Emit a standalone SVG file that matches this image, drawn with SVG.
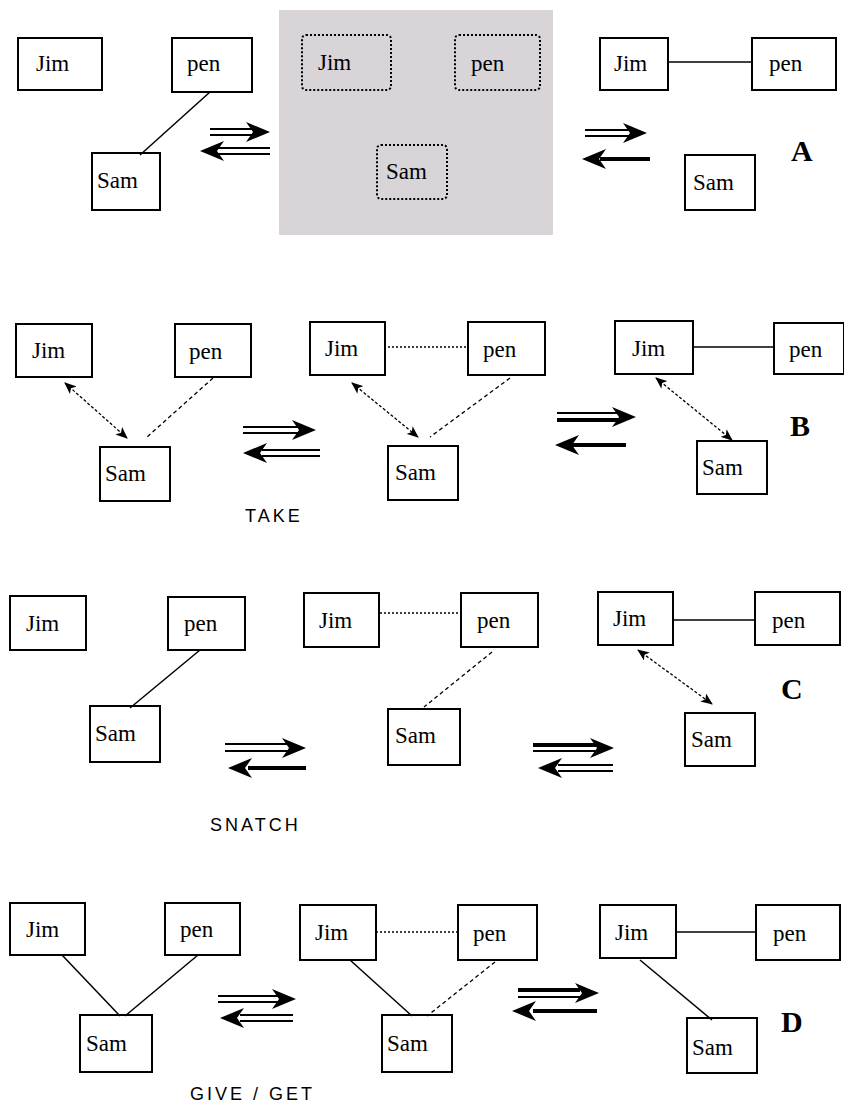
<svg xmlns="http://www.w3.org/2000/svg" width="844" height="1105" viewBox="0 0 844 1105">
<style>
.box{fill:#fff;stroke:#000;stroke-width:2}
.dbox{fill:none;stroke:#000;stroke-width:2;stroke-dasharray:2 2}
.t{font-family:"Liberation Serif",serif;font-size:23px;fill:#000}
.lab{font-family:"Liberation Serif",serif;font-size:30px;font-weight:bold;fill:#000}
.cap{font-family:"Liberation Sans",sans-serif;font-size:18px;letter-spacing:3px;fill:#000}
.ln{stroke:#000;stroke-width:1.5;fill:none}
.dot{stroke:#000;stroke-width:1.5;fill:none;stroke-dasharray:2 2}
.dash{stroke:#000;stroke-width:1.3;fill:none;stroke-dasharray:4 3}
.dbl{stroke:#000;stroke-width:1.3;fill:none;stroke-dasharray:3 2}
.thin{stroke:#000;stroke-width:2;fill:none}
.thick{stroke:#000;stroke-width:4;fill:none}
.head{fill:#000}
</style>
<defs>
<marker id="ah" viewBox="0 0 12 10" refX="11" refY="5" markerWidth="12" markerHeight="10" markerUnits="userSpaceOnUse" orient="auto-start-reverse">
<path d="M0,0 L12,5 L0,10 L3,5 Z" fill="#000"/>
</marker>
<path id="hr" d="M0,0 L-24,-10 L-17,0 L-24,10 Z" class="head"/>
</defs>

<!-- Row A -->
<g id="A-jim1"><rect class="box" x="18" y="38" width="84" height="52"/><text class="t" x="36" y="71">Jim</text></g>
<g id="A-pen1"><rect class="box" x="172" y="38" width="80" height="54"/><text class="t" x="187" y="71">pen</text></g>
<g id="A-sam1"><rect class="box" x="92" y="153" width="68" height="57"/><text class="t" x="97" y="188">Sam</text></g>
<rect x="279" y="10" width="274" height="225" fill="#d8d4d8"/>
<g id="A-jim2"><rect class="dbox" x="302" y="35" width="89" height="55" rx="4"/><text class="t" x="318" y="70">Jim</text></g>
<g id="A-pen2"><rect class="dbox" x="455" y="35" width="85" height="55" rx="4"/><text class="t" x="471" y="71">pen</text></g>
<g id="A-sam2"><rect class="dbox" x="377" y="145" width="70" height="54" rx="4"/><text class="t" x="386" y="179">Sam</text></g>
<g id="A-jim3"><rect class="box" x="600" y="38" width="68" height="52"/><text class="t" x="614" y="71">Jim</text></g>
<g id="A-pen3"><rect class="box" x="752" y="38" width="84" height="52"/><text class="t" x="769" y="71">pen</text></g>
<g id="A-sam3"><rect class="box" x="685" y="155" width="70" height="55"/><text class="t" x="693" y="190">Sam</text></g>
<text class="lab" x="791" y="161">A</text>

<!-- Row B -->
<g id="B-jim1"><rect class="box" x="16" y="324" width="76" height="53"/><text class="t" x="32" y="358">Jim</text></g>
<g id="B-pen1"><rect class="box" x="175" y="324" width="76" height="53"/><text class="t" x="189" y="359">pen</text></g>
<g id="B-sam1"><rect class="box" x="100" y="447" width="70" height="54"/><text class="t" x="105" y="481">Sam</text></g>
<g id="B-jim2"><rect class="box" x="310" y="322" width="75" height="53"/><text class="t" x="325" y="356">Jim</text></g>
<g id="B-pen2"><rect class="box" x="468" y="322" width="77" height="53"/><text class="t" x="483" y="357">pen</text></g>
<g id="B-sam2"><rect class="box" x="388" y="446" width="70" height="54"/><text class="t" x="395" y="480">Sam</text></g>
<g id="B-jim3"><rect class="box" x="615" y="321" width="78" height="53"/><text class="t" x="632" y="356">Jim</text></g>
<g id="B-pen3"><rect class="box" x="774" y="323" width="70" height="51"/><text class="t" x="789" y="357">pen</text></g>
<g id="B-sam3"><rect class="box" x="697" y="441" width="70" height="53"/><text class="t" x="702" y="475">Sam</text></g>
<text class="lab" x="790" y="436">B</text>
<text class="cap" x="245" y="522">TAKE</text>

<!-- Row C -->
<g id="C-jim1"><rect class="box" x="10" y="596" width="76" height="54"/><text class="t" x="26" y="631">Jim</text></g>
<g id="C-pen1"><rect class="box" x="168" y="597" width="77" height="53"/><text class="t" x="184" y="631">pen</text></g>
<g id="C-sam1"><rect class="box" x="90" y="706" width="70" height="56"/><text class="t" x="95" y="741">Sam</text></g>
<g id="C-jim2"><rect class="box" x="304" y="593" width="75" height="54"/><text class="t" x="319" y="628">Jim</text></g>
<g id="C-pen2"><rect class="box" x="461" y="593" width="77" height="54"/><text class="t" x="477" y="628">pen</text></g>
<g id="C-sam2"><rect class="box" x="388" y="709" width="72" height="56"/><text class="t" x="395" y="743">Sam</text></g>
<g id="C-jim3"><rect class="box" x="598" y="592" width="75" height="53"/><text class="t" x="613" y="626">Jim</text></g>
<g id="C-pen3"><rect class="box" x="755" y="592" width="85" height="53"/><text class="t" x="772" y="628">pen</text></g>
<g id="C-sam3"><rect class="box" x="685" y="713" width="70" height="53"/><text class="t" x="691" y="747">Sam</text></g>
<text class="lab" x="781" y="699">C</text>
<text class="cap" x="210" y="831">SNATCH</text>

<!-- Row D -->
<g id="D-jim1"><rect class="box" x="10" y="903" width="75" height="52"/><text class="t" x="26" y="937">Jim</text></g>
<g id="D-pen1"><rect class="box" x="165" y="903" width="75" height="52"/><text class="t" x="180" y="937">pen</text></g>
<g id="D-sam1"><rect class="box" x="80" y="1015" width="72" height="57"/><text class="t" x="86" y="1051">Sam</text></g>
<g id="D-jim2"><rect class="box" x="300" y="905" width="76" height="55"/><text class="t" x="315" y="940">Jim</text></g>
<g id="D-pen2"><rect class="box" x="458" y="905" width="79" height="55"/><text class="t" x="473" y="941">pen</text></g>
<g id="D-sam2"><rect class="box" x="382" y="1015" width="70" height="57"/><text class="t" x="387" y="1051">Sam</text></g>
<g id="D-jim3"><rect class="box" x="600" y="905" width="76" height="53"/><text class="t" x="615" y="940">Jim</text></g>
<g id="D-pen3"><rect class="box" x="756" y="905" width="84" height="55"/><text class="t" x="773" y="941">pen</text></g>
<g id="D-sam3"><rect class="box" x="687" y="1018" width="70" height="55"/><text class="t" x="692" y="1055">Sam</text></g>
<text class="lab" x="781" y="1032">D</text>
<text class="cap" x="190" y="1100">GIVE / GET</text>

<!-- connectors -->
<g id="connectors">
<!-- A -->
<line class="ln" x1="210" y1="92" x2="140" y2="155"/>
<line class="ln" x1="668" y1="62" x2="752" y2="62"/>
<!-- B -->
<line class="dbl" x1="65" y1="383" x2="127" y2="438" marker-start="url(#ah)" marker-end="url(#ah)"/>
<line class="dash" x1="213" y1="378" x2="147" y2="437"/>
<line class="dbl" x1="352" y1="383" x2="418" y2="437" marker-start="url(#ah)" marker-end="url(#ah)"/>
<line class="dot" x1="388" y1="347" x2="466" y2="347"/>
<line class="dash" x1="510" y1="378" x2="430" y2="437"/>
<line class="ln" x1="693" y1="347" x2="774" y2="347"/>
<line class="dbl" x1="656" y1="378" x2="732" y2="440" marker-start="url(#ah)" marker-end="url(#ah)"/>
<!-- C -->
<line class="ln" x1="200" y1="650" x2="130" y2="708"/>
<line class="dot" x1="380" y1="613" x2="460" y2="613"/>
<line class="dash" x1="492" y1="652" x2="424" y2="707"/>
<line class="ln" x1="673" y1="620" x2="755" y2="620"/>
<line class="dbl" x1="638" y1="650" x2="712" y2="704" marker-start="url(#ah)" marker-end="url(#ah)"/>
<!-- D -->
<line class="ln" x1="62" y1="955" x2="120" y2="1016"/>
<line class="ln" x1="198" y1="955" x2="125" y2="1016"/>
<line class="ln" x1="350" y1="960" x2="412" y2="1016"/>
<line class="dot" x1="376" y1="932" x2="458" y2="932"/>
<line class="dash" x1="495" y1="962" x2="427" y2="1016"/>
<line class="ln" x1="676" y1="932" x2="756" y2="932"/>
<line class="ln" x1="640" y1="960" x2="712" y2="1020"/>

<!-- reaction arrows: A left -->
<line class="thin" x1="210" y1="129" x2="252" y2="129"/><line class="thin" x1="210" y1="135" x2="252" y2="135"/>
<use href="#hr" transform="translate(270,132)"/>
<line class="thin" x1="218" y1="148" x2="270" y2="148"/><line class="thin" x1="218" y1="154" x2="270" y2="154"/>
<use href="#hr" transform="translate(200,151) scale(-1,1)"/>
<!-- A right -->
<line class="thin" x1="585" y1="130" x2="630" y2="130"/><line class="thin" x1="585" y1="136" x2="630" y2="136"/>
<use href="#hr" transform="translate(647,133)"/>
<line class="thick" x1="600" y1="159" x2="650" y2="159"/>
<use href="#hr" transform="translate(582,159) scale(-1,1)"/>
<!-- B left -->
<line class="thin" x1="243" y1="427" x2="298" y2="427"/><line class="thin" x1="243" y1="433" x2="298" y2="433"/>
<use href="#hr" transform="translate(316,430)"/>
<line class="thin" x1="262" y1="450" x2="320" y2="450"/><line class="thin" x1="262" y1="456" x2="320" y2="456"/>
<use href="#hr" transform="translate(243,453) scale(-1,1)"/>
<!-- B right -->
<line class="thin" x1="557" y1="413" x2="618" y2="413"/><line class="thick" x1="557" y1="420" x2="618" y2="420"/>
<use href="#hr" transform="translate(636,417)"/>
<line class="thick" x1="572" y1="445" x2="626" y2="445"/>
<use href="#hr" transform="translate(555,445) scale(-1,1)"/>
<!-- C left -->
<line class="thin" x1="225" y1="744" x2="288" y2="744"/><line class="thin" x1="225" y1="751" x2="288" y2="751"/>
<use href="#hr" transform="translate(306,748)"/>
<line class="thick" x1="248" y1="768" x2="306" y2="768"/>
<use href="#hr" transform="translate(228,768) scale(-1,1)"/>
<!-- C right -->
<line class="thick" x1="533" y1="745" x2="596" y2="745"/><line class="thin" x1="533" y1="751" x2="596" y2="751"/>
<use href="#hr" transform="translate(614,748)"/>
<line class="thin" x1="558" y1="765" x2="613" y2="765"/><line class="thin" x1="558" y1="771" x2="613" y2="771"/>
<use href="#hr" transform="translate(538,768) scale(-1,1)"/>
<!-- D left -->
<line class="thin" x1="218" y1="996" x2="278" y2="996"/><line class="thin" x1="218" y1="1002" x2="278" y2="1002"/>
<use href="#hr" transform="translate(296,999)"/>
<line class="thin" x1="240" y1="1015" x2="293" y2="1015"/><line class="thin" x1="240" y1="1021" x2="293" y2="1021"/>
<use href="#hr" transform="translate(220,1018) scale(-1,1)"/>
<!-- D right -->
<line class="thick" x1="518" y1="990" x2="580" y2="990"/><line class="thin" x1="518" y1="997" x2="580" y2="997"/>
<use href="#hr" transform="translate(599,993)"/>
<line class="thick" x1="533" y1="1011" x2="597" y2="1011"/>
<use href="#hr" transform="translate(512,1011) scale(-1,1)"/>
</g>
</svg>
